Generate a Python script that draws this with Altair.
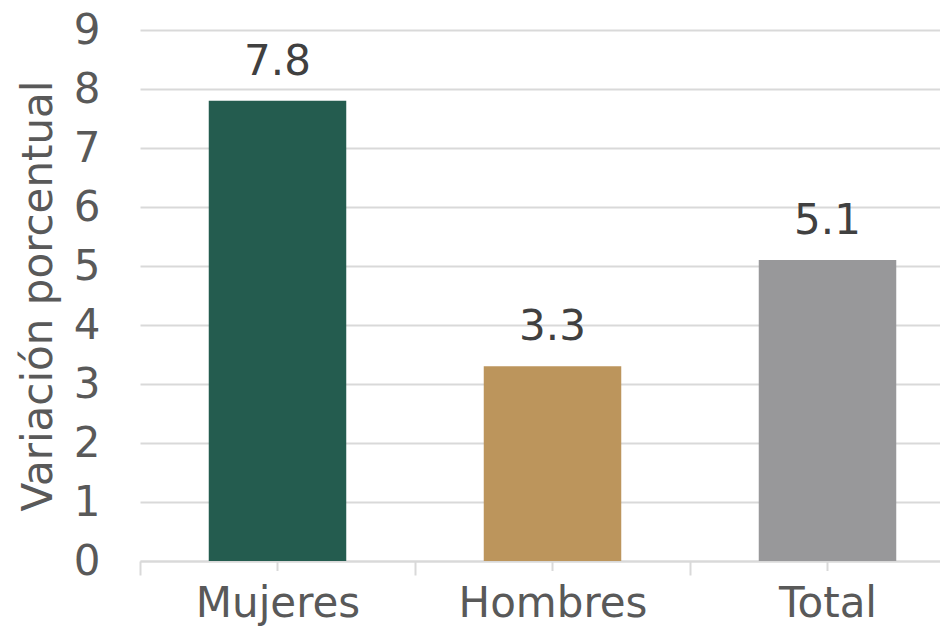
import altair as alt
import pandas as pd

categories = ["Mujeres", "Hombres", "Total"]
values = [7.8, 3.3, 5.1]
bar_colors = ["#245C4F", "#BC955C", "#98989A"]
y_ticks = [0, 1, 2, 3, 4, 5, 6, 7, 8, 9]

df = pd.DataFrame({"cat": categories, "val": values, "color": bar_colors})

FONT = "DejaVu Sans"
GRID = "#D9D9D9"

x = alt.X(
    "cat:N",
    sort=categories,
    title=None,
    scale=alt.Scale(range=[0, 825], paddingInner=0, paddingOuter=0),
    axis=alt.Axis(
        labelAngle=0,
        labelFontSize=42,
        labelFont=FONT,
        labelColor="#595959",
        labelPadding=8,
        labelLimit=0,
        tickBand="extent",
        tickSize=14,
        tickColor=GRID,
        tickWidth=2,
        domainColor=GRID,
        domainWidth=2,
        grid=False,
    ),
)
y = alt.Y(
    "val:Q",
    title="Variación porcentual",
    scale=alt.Scale(domain=[0, 9], nice=False),
    axis=alt.Axis(
        values=y_ticks,
        format="d",
        domain=False,
        ticks=False,
        grid=True,
        gridColor=GRID,
        gridWidth=2,
        labelFontSize=42,
        labelFont=FONT,
        labelColor="#595959",
        labelPadding=40,
        titleFontSize=42,
        titleFont=FONT,
        titleFontWeight="normal",
        titleColor="#595959",
        titlePadding=13,
        titleLimit=0,
    ),
)

base = alt.Chart(df)
bars = base.mark_bar(width=alt.RelativeBandSize(0.5)).encode(
    x=x,
    y=y,
    color=alt.Color("color:N", scale=None, legend=None),
)
labels = base.mark_text(
    baseline="bottom", dy=-17, fontSize=42, font=FONT, color="#404040"
).encode(x=alt.X("cat:N", sort=categories), y="val:Q", text=alt.Text("val:Q", format=".1f"))
center_ticks = base.mark_rule(color=GRID, strokeWidth=2, y2Offset=10).encode(
    x=alt.X("cat:N", sort=categories),
    y=alt.datum(0),
    y2=alt.datum(0),
)

chart = (
    alt.layer(bars, center_ticks, labels)
    .properties(
        width=800,
        height=531,
        autosize=alt.AutoSizeParams(type="none"),
        padding={"left": 132, "top": 22, "right": 0, "bottom": 68},
    )
    .configure_view(stroke=None)
)

chart.save("out.html", embed_options={"renderer": "svg", "actions": False})
